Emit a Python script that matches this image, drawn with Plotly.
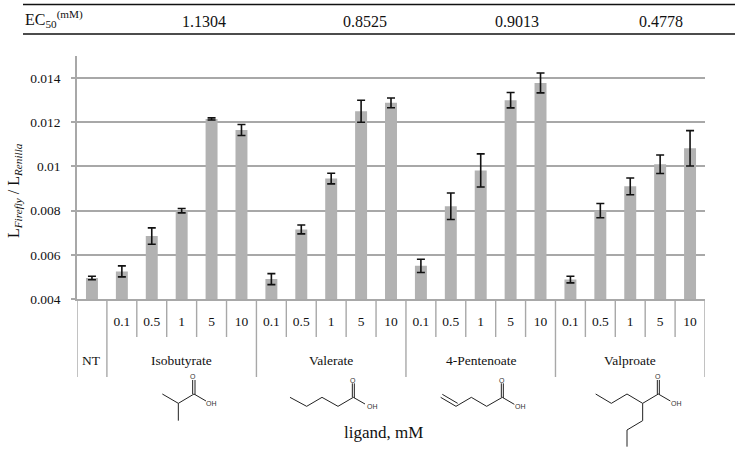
import plotly.graph_objects as go

SERIF = "Liberation Serif"
W, H = 739, 451
L, R, T, B = 77, 705, 56, 299

categories = ["NT"] + [f"{g} {c}" for g in ["Isobutyrate", "Valerate", "4-Pentenoate", "Valproate"]
                       for c in ["0.1", "0.5", "1", "5", "10"]]
tick_labels = ["0.1", "0.5", "1", "5", "10", "0.1", "0.5", "1", "5", "10",
               "0.1", "0.5", "1", "5", "10", "0.1", "0.5", "1", "5", "10"]
values = [0.00495,
          0.00525, 0.00685, 0.00800, 0.01215, 0.01165,
          0.00490, 0.00715, 0.00945, 0.01250, 0.01288,
          0.00550, 0.00820, 0.00982, 0.01300, 0.01378,
          0.00488, 0.00800, 0.00910, 0.01010, 0.01082]
errors = [0.00008,
          0.00025, 0.00037, 0.00010, 0.00005, 0.00025,
          0.00025, 0.00020, 0.00024, 0.00050, 0.00022,
          0.00030, 0.00060, 0.00075, 0.00035, 0.00045,
          0.00015, 0.00032, 0.00038, 0.00042, 0.00080]
groups = ["NT", "Isobutyrate", "Valerate", "4-Pentenoate", "Valproate"]
group_centres = [0, 3, 8, 13, 18]
group_edges = [-0.5, 0.5, 5.5, 10.5, 15.5, 20.5]
ec50_labels = ["1.1304", "0.8525", "0.9013", "0.4778"]
y_ticks = [0.004, 0.006, 0.008, 0.01, 0.012, 0.014]
y_tick_text = ["0.004", "0.006", "0.008", "0.01", "0.012", "0.014"]

GRID = "#a8a8a8"


def px(x):
    return (x - L) / (R - L)


def py(y):
    return (B - y) / (B - T)


def pl(points, width=1.0, color="#222222"):
    d = "M " + " L ".join(f"{px(x):.5f},{py(y):.5f}" for x, y in points)
    return dict(type="path", xref="paper", yref="paper", path=d,
                line=dict(color=color, width=width), layer="above")


def z3(x, y):
    return (x / 3, 290 + y / 3)


def z4(x, y):
    return (370 + x / 3, 290 + y / 3)


shapes = []
# table rules
for y in (4.5, 34):
    shapes.append(dict(type="line", xref="paper", yref="paper", x0=px(23), x1=px(735),
                       y0=py(y), y1=py(y), line=dict(color="#111111", width=1.5)))

# category dividers
for i in range(1, 21):
    if i in (1, 6, 11, 16):
        continue
    edge = i - 0.5
    shapes.append(dict(type="line", xref="x", yref="paper", x0=edge, x1=edge,
                       y0=py(B), y1=py(337), line=dict(color=GRID, width=1.4)))
for e in group_edges:
    shapes.append(dict(type="line", xref="x", yref="paper", x0=e, x1=e,
                       y0=py(B), y1=py(377), line=dict(color=GRID, width=1.4)))

# skeletal formulas
mol_lines = [
    [z3(487, 312), z3(535, 340), z3(582, 312), z3(618, 333)],
    [z3(535, 340), z3(535, 392)],
    [z3(578, 312), z3(578, 270)], [z3(585, 314), z3(585, 270)],
    [z3(870, 322), z3(920, 349), z3(966, 322), z3(1014, 349), z3(1060, 322), z3(1095, 342)],
    [z3(1057, 322), z3(1057, 280)], [z3(1063, 324), z3(1063, 280)],
    [z4(212, 322), z4(258, 349), z4(304, 322), z4(350, 349), z4(397, 322), z4(433, 343)],
    [z4(217, 313), z4(263, 340)],
    [z4(394, 322), z4(394, 280)], [z4(400, 324), z4(400, 280)],
    [z4(677, 312), z4(724, 340), z4(771, 312), z4(818, 340), z4(865, 312), z4(901, 333)],
    [z4(862, 312), z4(862, 270)], [z4(868, 314), z4(868, 270)],
    [z4(818, 340), z4(818, 392), z4(771, 420), z4(771, 470)],
]
shapes += [pl(p) for p in mol_lines]


def note(text, x, y, size=13.5, family=SERIF, color="#111111", **kw):
    return dict(text=text, xref="paper", yref="paper", x=px(x), y=py(y), showarrow=False,
                xanchor=kw.pop("xanchor", "center"), yanchor="middle",
                font=dict(family=family, size=size, color=color), **kw)


annotations = [note("EC<sub>50</sub><sup>(mM)</sup>", 23, 19, size=16, xanchor="left")]
for label, x in zip(ec50_labels, [204, 365, 517, 661]):
    annotations.append(note(label, x, 21, size=16))
for g, c in zip(groups, group_centres):
    annotations.append(dict(text=g, xref="x", yref="paper", x=c, y=py(360), showarrow=False,
                            yanchor="middle", font=dict(family=SERIF, size=13.5, color="#111111")))
annotations.append(note("ligand, mM", 383, 432, size=17))
annotations.append(note("L<sub><i>Firefly</i></sub> / L<sub><i>Renilla</i></sub>", 14, 191,
                        size=16, textangle=-90))
SANS = "Liberation Sans"
for text, x, y in [("O", *z3(580, 260)), ("OH", *z3(635, 340)),
                   ("O", *z3(1058, 270)), ("OH", *z4(8, 349)),
                   ("O", *z4(397, 270)), ("OH", *z4(450, 349)),
                   ("O", *z4(865, 258)), ("OH", *z4(918, 340))]:
    annotations.append(note(text, x, y, size=7, family=SANS, color="#333333"))

fig = go.Figure(go.Bar(
    x=list(range(len(categories))), y=values, customdata=categories,
    marker=dict(color="#b2b2b2", line=dict(width=0)),
    error_y=dict(type="data", array=errors, visible=True, color="#111111", thickness=1.6, width=4),
))
fig.update_layout(
    width=W, height=H, autosize=False,
    margin=dict(l=L, r=W - R, t=T, b=H - B, pad=0),
    paper_bgcolor="white", plot_bgcolor="white",
    bargap=0.6, showlegend=False,
    font=dict(family=SERIF, size=13.5, color="#111111"),
    shapes=shapes, annotations=annotations,
    xaxis=dict(range=[-0.5, 20.5], tickmode="array", tickvals=list(range(1, 21)), ticktext=tick_labels,
               ticks="", showgrid=False, zeroline=False, showline=True, linecolor=GRID, linewidth=1.5,
               ticklabelstandoff=9, tickangle=0, tickfont=dict(family=SERIF, size=13.5, color="#111111")),
    yaxis=dict(range=[0.004, 0.015], tickmode="array", tickvals=y_ticks, ticktext=y_tick_text,
               ticks="outside", ticklen=4, tickcolor=GRID, tickwidth=1.5,
               showgrid=True, gridcolor=GRID, gridwidth=1.5, zeroline=False,
               showline=True, linecolor=GRID, linewidth=1.5, ticklabelstandoff=8,
               tickfont=dict(family=SERIF, size=13.5, color="#111111")),
)
fig.write_html("out.html", config=dict(displayModeBar=False),
               post_script="document.body.style.margin='0';document.body.style.overflow='hidden';")
